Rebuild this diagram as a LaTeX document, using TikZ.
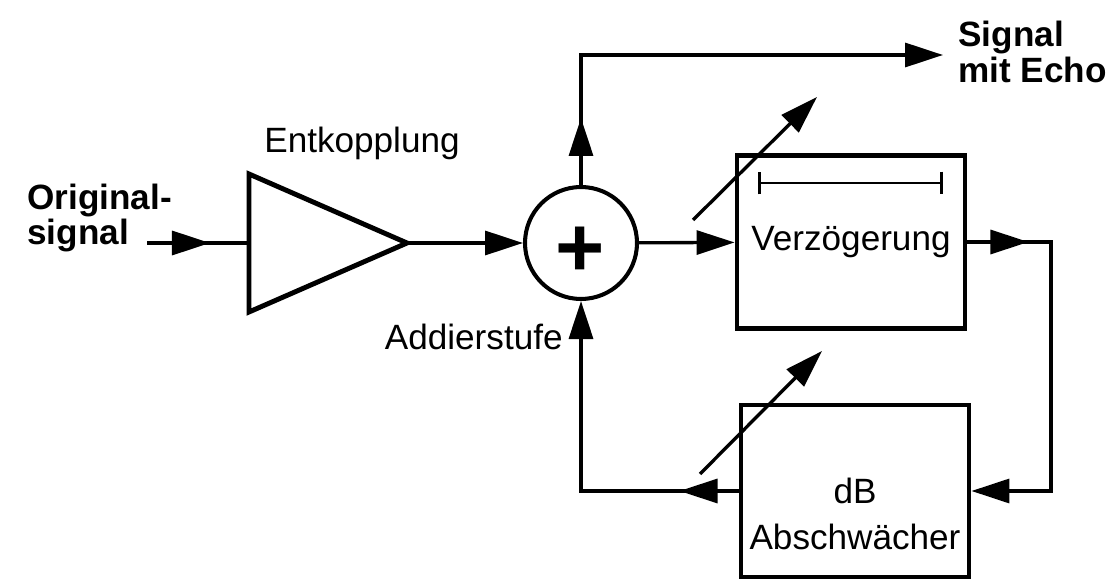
\documentclass[tikz,border=0pt]{standalone}
\usepackage{fontspec}
\setmainfont{Liberation Sans}
\usetikzlibrary{arrows.meta,decorations.markings}

\tikzset{
  sig/.style={line width=1.9pt},
  tipend/.style={-{Triangle[length=0.76cm,width=0.48cm]}},
  tipmid/.style={postaction={decorate},
    decoration={markings, mark=at position #1 with {\arrow{Triangle[length=0.76cm,width=0.48cm]}}}},
  block/.style={draw, line width=2.8pt, minimum width=4.56cm, minimum height=3.46cm, inner sep=0pt},
  lbl/.style={inner sep=0pt, font=\fontsize{20}{20}\selectfont},
  lblb/.style={inner sep=0pt, font=\fontsize{20}{20}\selectfont\bfseries, align=left},
}

\begin{document}
\begin{tikzpicture}[x=0.02cm, y=-0.02cm]
    \useasboundingbox (0,0) rectangle (1113,584);

    % Entkopplung
    \coordinate (ampin) at (249,243);
    \coordinate (ampout) at (407,243);
    \draw[line width=2.8pt] (249,174) -- (ampout) -- (249,312) -- cycle;
    \node[lbl, anchor=base] (entk) at (362,153) {Entkopplung};

    % Addierstufe
    \node[draw, circle, line width=2.3pt, minimum size=2.24cm, inner sep=0pt] (add) at (581,243) {};
    \node[inner sep=0pt, font=\fontsize{48}{48}\selectfont\bfseries] (plus) at (580,252) {+};
    \node[lbl, anchor=base east] (addlbl) at (563,350) {Addierstufe};

    % Verzoegerung
    \node[block, lbl, inner sep=0pt] (verz) at (851,242) {Verzögerung};
    \draw[line width=1.6pt, {Bar[width=0.46cm]}-{Bar[width=0.46cm]}] (758,183) -- (943,183);

    % Abschwaecher
    \node[block, minimum height=3.44cm] (att) at (855,491) {};
    \node[lbl, align=center, font=\fontsize{20}{26.6}\selectfont] (attlbl) at (855,514) {dB\\Abschwächer};

    % Ein- und Ausgang
    \node[lblb, anchor=west] (inlbl) at (27,218) {Original-\\signal};
    \node[lblb, anchor=west] (outlbl) at (958,52) {Signal\\mit Echo};
    \coordinate (in) at (147,243);
    \coordinate (outpt) at (943,55);
    \coordinate (corner) at (1051,242);

    % Signalweg
    \draw[sig, tipmid=1.26cm] (in) -- (ampin);
    \draw[sig, tipend] (ampout) -- (add);
    \draw[sig, tipend, tipmid=1.34cm] (add) |- (outpt);
    \draw[sig, tipend] (add) -- (verz);
    \draw[sig, tipend, tipmid=1.22cm] (verz) -- (corner) |- (att);
    \draw[sig, tipend, tipmid=1.18cm] (att) -| (add);

    % Einstellpfeile
    \draw[sig, tipend] (693,220) -- (817,97);
    \draw[sig, tipend] (700,474) -- (822,351);
\end{tikzpicture}
\end{document}
